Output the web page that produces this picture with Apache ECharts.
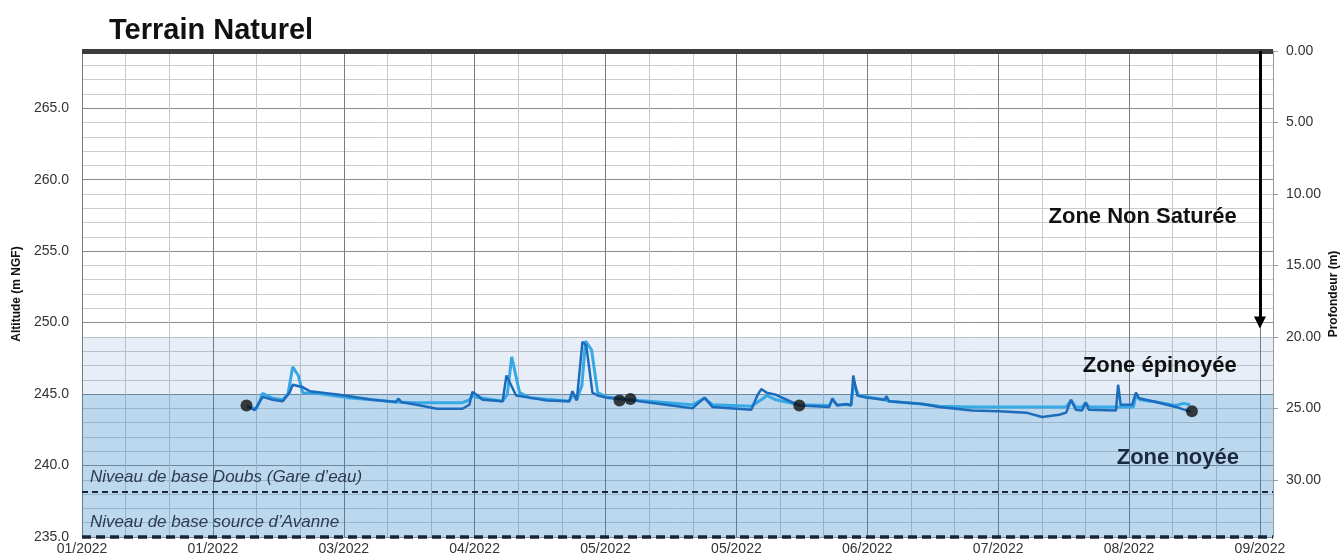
<!DOCTYPE html>
<html>
<head>
<meta charset="utf-8">
<script src="https://cdn.jsdelivr.net/npm/echarts@6/dist/echarts.min.js"></script>
<style>
  html, body { margin: 0; padding: 0; background: #fff; }
  #chart { width: 1341px; height: 560px; }
</style>
</head>
<body>
<div id="chart"></div>
<script>
// ---- Data ---------------------------------------------------------------
// Piezometer record, deeper probe (dark blue)
const darkDates = [
  '2022-02-07 19:00','2022-02-09 14:00','2022-02-11 10:00','2022-02-13 17:00','2022-02-16 00:00',
  '2022-02-17 14:00','2022-02-18 07:00','2022-02-20 10:00','2022-02-22 05:00','2022-03-01 00:00',
  '2022-03-08 14:00','2022-03-13 22:00','2022-03-14 14:00','2022-03-15 05:00','2022-03-18 17:00',
  '2022-03-23 07:00','2022-03-29 05:00','2022-03-30 19:00','2022-03-31 12:00','2022-04-01 17:00',
  '2022-04-02 19:00','2022-04-07 10:00','2022-04-08 07:00','2022-04-10 12:00','2022-04-13 14:00',
  '2022-04-17 12:00','2022-04-22 17:00','2022-04-23 10:00','2022-04-24 10:00','2022-04-25 17:00',
  '2022-04-26 14:00','2022-04-28 00:00','2022-04-29 05:00','2022-05-01 05:00','2022-05-06 00:00',
  '2022-05-08 19:00','2022-05-20 22:00','2022-05-23 17:00','2022-05-25 12:00','2022-06-03 10:00',
  '2022-06-04 19:00','2022-06-05 17:00','2022-06-06 22:00','2022-06-09 02:00','2022-06-14 10:00',
  '2022-06-21 07:00','2022-06-22 00:00','2022-06-23 02:00','2022-06-25 05:00','2022-06-26 07:00',
  '2022-06-26 19:00','2022-06-27 17:00','2022-06-29 19:00','2022-07-03 22:00','2022-07-04 10:00',
  '2022-07-05 00:00','2022-07-12 14:00','2022-07-16 12:00','2022-07-24 00:00','2022-07-30 05:00',
  '2022-08-05 10:00','2022-08-09 02:00','2022-08-13 00:00','2022-08-14 14:00','2022-08-15 17:00',
  '2022-08-16 19:00','2022-08-18 05:00','2022-08-19 02:00','2022-08-19 19:00','2022-08-26 00:00',
  '2022-08-26 12:00','2022-08-27 02:00','2022-08-29 17:00','2022-08-30 14:00','2022-08-31 07:00',
  '2022-09-04 05:00','2022-09-08 17:00','2022-09-12 05:00'
];
const darkLevels = [
  244.17, 243.87, 244.80, 244.60, 244.50,
  245.10, 245.65, 245.50, 245.20, 244.95,
  244.60, 244.45, 244.68, 244.42, 244.25,
  243.97, 243.97, 244.25, 245.15, 244.90,
  244.60, 244.50, 246.30, 244.90, 244.75,
  244.55, 244.50, 245.20, 244.55, 248.65,
  248.40, 245.10, 244.90, 244.75, 244.60,
  244.50, 244.00, 244.75, 244.10, 243.90,
  244.90, 245.35, 245.10, 244.95, 244.20,
  244.10, 244.70, 244.20, 244.30, 244.20,
  246.30, 244.90, 244.75, 244.60, 244.85,
  244.50, 244.30, 244.10, 243.85, 243.80,
  243.70, 243.40, 243.55, 243.70, 244.60,
  243.90, 243.85, 244.40, 243.90, 243.85,
  245.65, 244.25, 244.25, 245.10, 244.70,
  244.45, 244.10, 243.75
];

// Piezometer record, shallower probe (light blue)
const lightDates = [
  '2022-02-08 12:00','2022-02-10 00:00','2022-02-11 10:00','2022-02-13 17:00','2022-02-16 00:00',
  '2022-02-17 05:00','2022-02-18 07:00','2022-02-19 14:00','2022-02-20 14:00','2022-02-23 19:00',
  '2022-03-02 17:00','2022-03-08 14:00','2022-03-13 22:00','2022-03-18 17:00','2022-03-29 05:00',
  '2022-03-30 19:00','2022-03-31 14:00','2022-04-01 00:00','2022-04-07 10:00','2022-04-08 12:00',
  '2022-04-09 12:00','2022-04-11 07:00','2022-04-13 14:00','2022-04-22 17:00','2022-04-23 10:00',
  '2022-04-24 10:00','2022-04-25 14:00','2022-04-26 10:00','2022-04-27 19:00','2022-04-29 05:00',
  '2022-05-01 05:00','2022-05-08 19:00','2022-05-20 22:00','2022-05-23 17:00','2022-05-25 12:00',
  '2022-06-03 10:00','2022-06-05 17:00','2022-06-07 00:00','2022-06-09 02:00','2022-06-14 10:00',
  '2022-06-21 07:00','2022-06-22 00:00','2022-06-23 02:00','2022-06-26 07:00','2022-06-26 22:00',
  '2022-06-28 00:00','2022-07-03 22:00','2022-07-05 00:00','2022-07-12 14:00','2022-07-16 12:00',
  '2022-07-24 00:00','2022-08-14 14:00','2022-08-15 17:00','2022-08-16 19:00','2022-08-18 05:00',
  '2022-08-19 02:00','2022-08-19 19:00','2022-08-30 00:00','2022-08-30 14:00','2022-08-31 12:00',
  '2022-09-04 05:00','2022-09-08 17:00','2022-09-10 12:00','2022-09-12 00:00'
];
const lightLevels = [
  244.10, 243.95, 245.05, 244.70, 244.60,
  245.00, 246.90, 246.30, 245.10, 245.05,
  244.75, 244.60, 244.45, 244.40, 244.40,
  244.60, 244.95, 244.80, 244.50, 245.00,
  247.60, 245.10, 244.75, 244.50, 245.00,
  244.60, 245.60, 248.70, 248.10, 245.10,
  244.80, 244.55, 244.25, 244.70, 244.25,
  244.15, 244.60, 244.90, 244.60, 244.25,
  244.20, 244.60, 244.25, 244.25, 245.80,
  244.90, 244.60, 244.50, 244.30, 244.15,
  244.10, 244.10, 244.55, 244.10, 244.10,
  244.40, 244.10, 244.10, 244.90, 244.60,
  244.45, 244.20, 244.35, 244.25
];

// Manual water-level readings
const manualDates  = ['2022-02-07 17:00','2022-05-04 05:00','2022-05-06 17:00','2022-06-14 10:00','2022-09-12 10:00'];
const manualLevels = [244.20, 244.55, 244.65, 244.20, 243.80];

// Reference levels (m NGF)
const terrainLevel = 269.0;          // ground surface = depth 0
const saturatedTop = 245.0;          // top of the flooded zone
const epinoyeeTop  = 249.0;          // top of the intermittently flooded zone
const baseDoubs    = 238.2;
const baseAvanne   = 235.0;

// Axis extents and ticks
const altMin = 235, altMax = 269;
const depthTicks = [0, 5, 10, 15, 20, 25, 30];
const startDate = '2022-01-01';
const endDate   = '2022-10-01';
const tickDays  = 30;                // labelled ticks every 30 days
const gridDays  = 10;                // light gridlines every 10 days

// ---- Helpers ------------------------------------------------------------
const DAY = 86400000;
const T0 = Date.parse(startDate + 'T00:00:00Z');
const toDay = s => (Date.parse(s.replace(' ', 'T') + ':00Z') - T0) / DAY;
const endDay = (Date.parse(endDate + 'T00:00:00Z') - T0) / DAY;
const pairs = (d, v) => d.map((s, i) => [toDay(s), v[i]]);
const fmtMonth = v => {
  const d = new Date(T0 + v * DAY);
  return String(d.getUTCMonth() + 1).padStart(2, '0') + '/' + d.getUTCFullYear();
};

const FONT = 'Liberation Sans';

const chart = echarts.init(document.getElementById('chart'), null, { renderer: 'canvas' });

chart.setOption({
  animation: false,
  backgroundColor: '#ffffff',
  title: {
    text: 'Terrain Naturel',
    left: 104, top: 11,
    textStyle: { fontFamily: FONT, fontSize: 29, fontWeight: 'bold', color: '#111111' }
  },
  grid: { left: 82, right: 68, top: 51, bottom: 23, containLabel: false, outerBoundsMode: 'none' },
  xAxis: {
    type: 'value',
    min: 0, max: endDay, interval: gridDays,
    axisLine: { show: false },
    axisTick: { show: false },
    axisLabel: {
      fontFamily: FONT, fontSize: 14, color: '#333333', margin: 5,
      showMaxLabel: false,
      formatter: v => (Math.round(v) % tickDays === 0 ? fmtMonth(v) : '')
    },
    splitLine: { show: true, lineStyle: { width: 1, color: ['#7c7c7c', '#c9c9c9', '#c9c9c9'] } }
  },
  yAxis: [
    {
      type: 'value',
      min: altMin, max: altMax, interval: 1,
      name: 'Altitude (m NGF)', nameLocation: 'middle', nameRotate: 90, nameGap: 58,
      nameTextStyle: { fontFamily: FONT, fontSize: 12, fontWeight: 'bold', color: '#111111' },
      axisLine: { show: false },
      axisTick: { show: false },
      axisLabel: {
        fontFamily: FONT, fontSize: 14, color: '#333333', margin: 13,
        formatter: v => (v % 5 === 0 && v < altMax ? v.toFixed(1) : '')
      },
      splitLine: { show: true, lineStyle: { width: 1, color: ['#8a8a8a', '#cccccc', '#cccccc', '#cccccc', '#cccccc'] } }
    },
    {
      type: 'value',
      inverse: true,
      min: 0, max: altMax - altMin, interval: 5,
      name: 'Profondeur (m)', nameLocation: 'middle', nameRotate: 90, nameGap: 55,
      nameMoveOverlap: false,
      nameTextStyle: { fontFamily: FONT, fontSize: 12, fontWeight: 'bold', color: '#111111' },
      axisLine: { show: true, lineStyle: { color: '#9a9a9a', width: 1 } },
      axisTick: { show: true, length: 5, lineStyle: { color: '#9a9a9a' } },
      axisLabel: {
        fontFamily: FONT, fontSize: 14, color: '#333333', margin: 13,
        showMaxLabel: false,
        formatter: v => (depthTicks.includes(v) ? v.toFixed(2) : '')
      },
      splitLine: { show: false }
    }
  ],
  series: [
    {
      // zones, reference levels and ground surface
      name: 'zones',
      type: 'line',
      data: [],
      silent: true,
      markArea: {
        silent: true,
        data: [
          [{ yAxis: saturatedTop, itemStyle: { color: 'rgba(70,120,190,0.125)' } }, { yAxis: epinoyeeTop }],
          [{ yAxis: altMin, itemStyle: { color: 'rgba(40,130,200,0.31)' } }, { yAxis: saturatedTop }]
        ]
      },
      markLine: {
        silent: true,
        symbol: 'none',
        animation: false,
        data: [
          {
            yAxis: baseDoubs,
            lineStyle: { color: '#17233a', width: 2, type: [6, 4] },
            label: {
              show: true, position: 'insideStartTop', distance: [8, 5],
              formatter: 'Niveau de base Doubs (Gare d\u2019eau)',
              fontFamily: FONT, fontSize: 17, fontStyle: 'italic', color: '#2e3b4e'
            }
          },
          {
            yAxis: baseAvanne,
            lineStyle: { color: '#17233a', width: 3.5, type: [9, 5] },
            label: {
              show: true, position: 'insideStartTop', distance: [8, 6],
              formatter: 'Niveau de base source d\u2019Avanne',
              fontFamily: FONT, fontSize: 17, fontStyle: 'italic', color: '#2e3b4e'
            }
          },
          {
            yAxis: terrainLevel,
            lineStyle: { color: '#3d3d3d', width: 5, type: 'solid' },
            label: { show: false }
          },
          [
            { coord: [270, terrainLevel], symbol: 'none' },
            { coord: [270, epinoyeeTop + 1.0], symbol: 'triangle', symbolSize: [12, 12] }
          ]
        ],
        lineStyle: { color: '#000000', width: 3, type: 'solid' },
        label: { show: false }
      },
      markPoint: {
        silent: true,
        symbol: 'circle',
        symbolSize: 0,
        data: [
          {
            coord: [264.7, 257.4],
            label: { show: true, position: 'left', distance: 0, formatter: 'Zone Non Saturée',
                     fontFamily: FONT, fontSize: 22, fontWeight: 'bold', color: '#111111' }
          },
          {
            coord: [264.7, 246.95],
            label: { show: true, position: 'left', distance: 0, formatter: 'Zone épinoyée',
                     fontFamily: FONT, fontSize: 22, fontWeight: 'bold', color: '#111111' }
          },
          {
            coord: [265.2, 240.55],
            label: { show: true, position: 'left', distance: 0, formatter: 'Zone noyée',
                     fontFamily: FONT, fontSize: 22, fontWeight: 'bold', color: '#1c2a40' }
          }
        ]
      }
    },
    {
      name: 'Sonde 2',
      type: 'line',
      data: pairs(lightDates, lightLevels),
      showSymbol: false,
      symbol: 'none',
      lineStyle: { color: '#36a8e6', width: 3 },
      z: 3
    },
    {
      name: 'Sonde 1',
      type: 'line',
      data: pairs(darkDates, darkLevels),
      showSymbol: false,
      symbol: 'none',
      lineStyle: { color: '#1d6cbc', width: 2.5 },
      z: 4
    },
    {
      name: 'Mesures manuelles',
      type: 'scatter',
      data: pairs(manualDates, manualLevels),
      symbol: 'circle',
      symbolSize: 12,
      itemStyle: { color: '#111111' },
      z: 5
    }
  ]
});
</script>
</body>
</html>
